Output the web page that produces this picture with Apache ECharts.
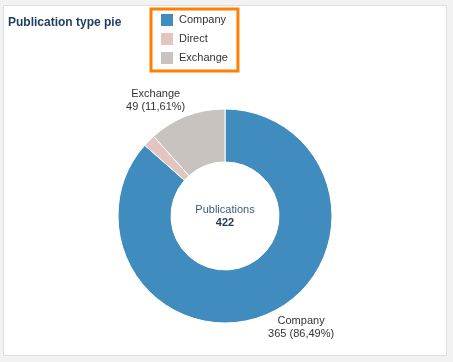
<!DOCTYPE html>
<html><head><meta charset="utf-8">
<script src="https://cdn.jsdelivr.net/npm/echarts@6/dist/echarts.min.js"></script>
<style>html,body{margin:0;padding:0;background:#f2f2f2;}#c{width:453px;height:362px;}</style>
</head><body><div id="c"></div>
<script>
const categories = ['Company', 'Direct', 'Exchange'];
const values = [365, 8, 49];
const percentLabels = ['86,49%', '1,90%', '11,61%'];
const colors = ['#418cbe', '#e2c5c1', '#c9c3bf'];
const showLabel = [true, false, true];
const centerTitle = 'Publications';
const total = values.reduce((a, b) => a + b, 0);

const cx = 225, cy = 216, rIn = 54, rOut = 107;
const chart = echarts.init(document.getElementById('c'), null, {renderer: 'canvas'});
const mids = [];
let acc = 0;
values.forEach(v => { mids.push((acc + v / 2) / total * 360); acc += v; });

chart.setOption({
  backgroundColor: '#f2f2f2',
  animation: false,
  graphic: [{
    type: 'rect', z: -10, shape: {x: 3.5, y: 5.5, width: 443, height: 350},
    style: {fill: '#ffffff', stroke: '#dedede', lineWidth: 1}
  }, {
    type: 'text', z: 10,
    style: {x: cx, y: 210, text: centerTitle, font: '11px "Liberation Sans", Arial, sans-serif', fill: '#3e5b78', align: 'center', verticalAlign: 'middle'}
  }, {
    type: 'text', z: 10,
    style: {x: cx, y: 223, text: String(total), font: 'bold 11px "Liberation Sans", Arial, sans-serif', fill: '#1f3a5a', align: 'center', verticalAlign: 'middle'}
  }],
  title: {
    text: 'Publication type pie', left: 8, top: 17,
    textStyle: {fontFamily: '"Liberation Sans", Arial, sans-serif', fontSize: 12, fontWeight: 'bold', color: '#1c3d5e'},
    padding: 0
  },
  legend: {
    orient: 'vertical', left: 151, top: 9,
    padding: [3, 10, 5, 8],
    borderColor: '#ff7f00', borderWidth: 3,
    itemWidth: 14, itemHeight: 14, itemGap: 3,
    icon: 'rect',
    data: categories,
    textStyle: {fontFamily: '"Liberation Sans", Arial, sans-serif', fontSize: 11, color: '#333'}
  },
  color: colors,
  series: [{
    type: 'pie',
    center: [cx, cy],
    radius: [rIn, rOut],
    startAngle: 90,
    clockwise: true,
    avoidLabelOverlap: false,
    itemStyle: {borderColor: '#fff', borderWidth: 1},
    label: {
      show: true, position: 'outside',
      formatter: p => p.name + '\n' + p.value + ' (' + percentLabels[p.dataIndex] + ')',
      fontFamily: '"Liberation Sans", Arial, sans-serif', fontSize: 11, color: '#333', lineHeight: 13, align: 'center'
    },
    labelLine: {show: false},
    labelLayout: function (p) {
      const a = (mids[p.dataIndex] - 10) * Math.PI / 180;
      const d = rOut + 28;
      return {x: cx + d * Math.sin(a), y: cy - d * Math.cos(a), align: 'center', verticalAlign: 'middle'};
    },
    emphasis: {disabled: true},
    data: categories.map((c, i) => ({name: c, value: values[i], label: {show: showLabel[i]}}))
  }]
});
</script></body></html>
